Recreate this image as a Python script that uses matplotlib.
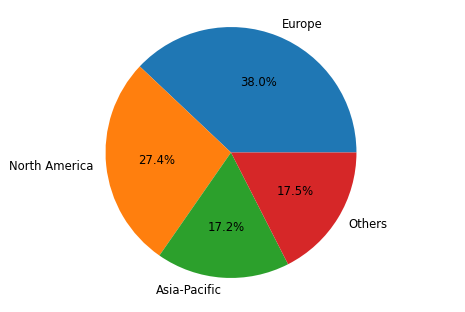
import matplotlib.pyplot as plt

labels = ['Europe', 'North America', 'Asia-Pacific', 'Others']
shares = [38.0, 27.4, 17.2, 17.5]

fig = plt.figure(figsize=(4.65, 3.12), dpi=100)
ax = fig.add_axes([31 / 465, 21.5 / 312, 400 / 465, 276 / 312])

# testo ridotto come nell'immagine di riferimento
ax.pie(shares, labels=labels, autopct='%1.1f%%', textprops={'fontsize': 8.4})
ax.axis('equal')

plt.savefig('out.png')
